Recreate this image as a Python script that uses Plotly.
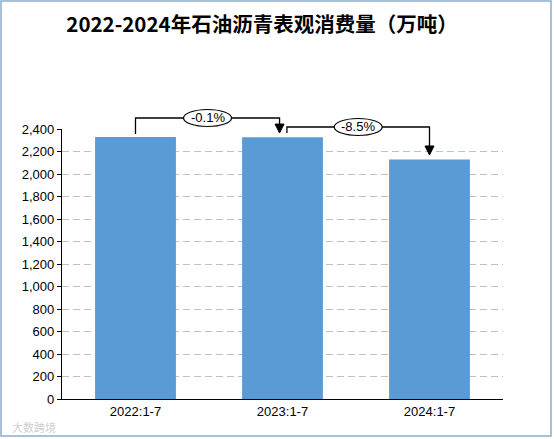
import plotly.graph_objects as go

categories = ["2022:1-7", "2023:1-7", "2024:1-7"]
values = [2330, 2327, 2129]
changes = ["-0.1%", "-8.5%"]
y_ticks = list(range(0, 2401, 200))

W, H = 554, 439
ML, MR, MT, MB = 62, 51, 129, 40
YMAX = 2400
PW, PH = W - ML - MR, H - MT - MB

def xp(i):
    return (i + 0.5) / len(categories)

def yp(v):
    return v / YMAX

def px2paper_x(x):
    return (x - ML) / PW

def px2paper_y(y):
    return (H - MB - y) / PH

fig = go.Figure()
fig.add_trace(go.Bar(x=categories, y=values, marker=dict(color="#5b9bd5", line=dict(width=0)),
                     width=0.55, hoverinfo="x+y"))

shapes = []
line = dict(color="black", width=1.3)
dx_px = 6 / PW
dy_px = 9 / PH

brackets = [
    dict(x0=0, x1=0.98, ystart=values[0] + 25, ylevel=2498, ytip=values[1] + 37, label=changes[0]),
    dict(x0=1.03, x1=2, ystart=values[1] + 37, ylevel=2418, ytip=values[2] + 40, label=changes[1]),
]
for b in brackets:
    path = "M {},{} L {},{} L {},{} L {},{}".format(
        xp(b["x0"]), yp(b["ystart"]), xp(b["x0"]), yp(b["ylevel"]),
        xp(b["x1"]), yp(b["ylevel"]), xp(b["x1"]), yp(b["ytip"]) + dy_px * 0.5)
    shapes.append(dict(type="path", xref="paper", yref="paper", path=path, line=line))
    tri = "M {},{} L {},{} L {},{} Z".format(
        xp(b["x1"]) - dx_px * 0.75, yp(b["ytip"]) + dy_px,
        xp(b["x1"]) + dx_px * 0.75, yp(b["ytip"]) + dy_px,
        xp(b["x1"]), yp(b["ytip"]))
    shapes.append(dict(type="path", xref="paper", yref="paper", path=tri,
                       fillcolor="black", line=dict(color="black", width=1)))
    cx = (xp(b["x0"]) + xp(b["x1"])) / 2
    cy = yp(b["ylevel"])
    ew, eh = 24 / PW, 8.5 / PH
    shapes.append(dict(type="circle", xref="paper", yref="paper",
                       x0=cx - ew, x1=cx + ew, y0=cy - eh, y1=cy + eh,
                       fillcolor="white", line=dict(color="black", width=1.2)))

# outer frame
shapes.append(dict(type="rect", xref="paper", yref="paper",
                   x0=px2paper_x(1), x1=px2paper_x(551), y0=px2paper_y(436), y1=px2paper_y(1),
                   line=dict(color="#8eaccb", width=1.5), fillcolor="rgba(0,0,0,0)", layer="below"))

annotations = []
for b in brackets:
    cx = (xp(b["x0"]) + xp(b["x1"])) / 2
    annotations.append(dict(x=cx, y=yp(b["ylevel"]), xref="paper", yref="paper",
                            text=b["label"], showarrow=False,
                            font=dict(family="Liberation Sans, Arial", size=13, color="black"),
                            xanchor="center", yanchor="middle"))

annotations.append(dict(x=px2paper_x(10), y=px2paper_y(427), xref="paper", yref="paper",
                        text="大数跨境", showarrow=False, xanchor="left", yanchor="middle",
                        font=dict(family="Noto Sans CJK SC", size=11, color="#d0d0d0")))

fig.update_layout(
    width=W, height=H,
    margin=dict(l=ML, r=MR, t=MT, b=MB),
    paper_bgcolor="white", plot_bgcolor="white",
    showlegend=False,
    title=dict(text="<b>2022-2024年石油沥青表观消费量（万吨）</b>",
               x=262 / W, xanchor="center", y=1 - 25 / H, yanchor="middle",
               font=dict(family="Noto Sans CJK SC", size=20.5, color="black")),
    bargap=0.45,
    shapes=shapes,
    annotations=annotations,
    xaxis=dict(type="category", showline=True, linecolor="black", linewidth=1.3,
               ticks="", showgrid=False,
               tickfont=dict(family="Liberation Sans, Arial", size=13, color="black")),
    yaxis=dict(range=[0, YMAX], tickvals=y_ticks, tickformat=",",
               showline=True, linecolor="black", linewidth=1.3,
               ticks="outside", ticklen=4, tickcolor="black",
               showgrid=True, gridcolor="#c0c0c0", griddash="7px,4px", gridwidth=1,
               zeroline=False,
               tickfont=dict(family="Liberation Sans, Arial", size=13, color="black")),
)

fig.write_html("out.html", config={"displayModeBar": False},
               post_script="document.body.style.margin='0';")
